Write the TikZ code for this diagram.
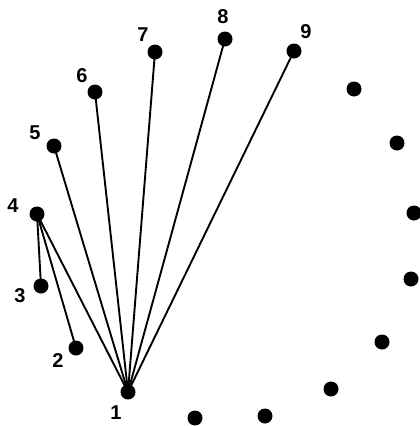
\documentclass[tikz,border=0pt]{standalone}
\usepackage{fontspec}
\setmainfont{Liberation Sans}
\begin{document}
\begin{tikzpicture}[x=1pt,y=-1pt,
  dot/.style={circle,fill=black,inner sep=0pt,minimum size=15pt},
  lbl/.style={font=\fontsize{20}{20}\selectfont\bfseries,inner sep=0pt},
  link/.style={line width=1.9pt}]
\useasboundingbox (0,0) rectangle (420,426);
\node[dot] (n1) at (128,392) {};
\node[dot] (n2) at (76,348) {};
\node[dot] (n3) at (41,286) {};
\node[dot] (n4) at (37,214) {};
\node[dot] (n5) at (54,146) {};
\node[dot] (n6) at (95,92) {};
\node[dot] (n7) at (155,52) {};
\node[dot] (n8) at (225,39) {};
\node[dot] (n9) at (294,51) {};
\node[dot] (r1) at (354,89) {};
\node[dot] (r2) at (397,143) {};
\node[dot] (r3) at (414,213) {};
\node[dot] (r4) at (411,279) {};
\node[dot] (r5) at (382,342) {};
\node[dot] (r6) at (331,389) {};
\node[dot] (r7) at (265,416) {};
\node[dot] (r8) at (195,418) {};
\node[lbl] (l1) at (116,413) {1};
\node[lbl] (l2) at (58,361) {2};
\node[lbl] (l3) at (20,296) {3};
\node[lbl] (l4) at (13,206) {4};
\node[lbl] (l5) at (35,133) {5};
\node[lbl] (l6) at (82,76) {6};
\node[lbl] (l7) at (143,35) {7};
\node[lbl] (l8) at (223,17) {8};
\node[lbl] (l9) at (306,32) {9};
\draw[link] (n1.center) -- (n4.center);
\draw[link] (n1.center) -- (n5.center);
\draw[link] (n1.center) -- (n6.center);
\draw[link] (n1.center) -- (n7.center);
\draw[link] (n1.center) -- (n8.center);
\draw[link] (n1.center) -- (n9.center);
\draw[link] (n4.center) -- (n3.center);
\draw[link] (n4.center) -- (n2.center);
\end{tikzpicture}
\end{document}
